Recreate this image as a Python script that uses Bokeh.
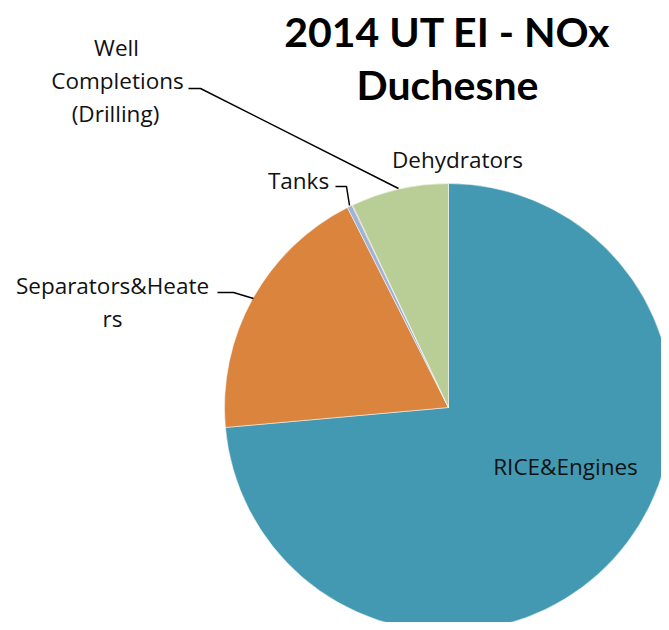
import math
from bokeh.plotting import figure
from bokeh.models import Range1d, ColumnDataSource
from bokeh.core.properties import value
from bokeh.embed import file_html
from bokeh.resources import INLINE

# ---- data ----
categories = ["RICE&Engines", "Separators&Heaters", "Tanks", "Well Completions (Drilling)", "Dehydrators"]
shares = [73.58, 18.97, 0.36, 0.05, 7.04]
colors = ["#4399B1", "#DB843D", "#9EB3D8", "#C0504D", "#B9CD96"]
title_lines = ["2014 UT EI - NOx", "Duchesne"]

# ---- layout (picture pixel coords, y down) ----
FW, FH = 661, 622
cx, cy, r = 448, 407, 224

p = figure(width=FW, height=FH, output_backend="svg", toolbar_location=None,
           x_range=Range1d(0, FW), y_range=Range1d(-FH, 0), min_border=0)
p.axis.visible = False
p.grid.visible = False
p.outline_line_color = None
p.background_fill_color = "white"

total = sum(shares)
starts, ends = [], []
cum = 0.0
for s in shares:
    a0 = math.pi / 2 - 2 * math.pi * (cum + s) / total
    a1 = math.pi / 2 - 2 * math.pi * cum / total
    starts.append(a0)
    ends.append(a1)
    cum += s

src = ColumnDataSource(dict(cat=categories, val=shares, start=starts, end=ends, color=colors))
p.wedge(x=cx, y=-cy, radius=r, start_angle="start", end_angle="end", fill_color="color",
        line_color="white", line_width=0.5, source=src)

# title
p.text(x=[447, 447], y=[-31, -84], text=title_lines, text_font=value("Lato"),
       text_font_style="bold", text_font_size="41px", text_align="center",
       text_baseline="middle", text_color="black")

# labels
lab_font = value("Open Sans")
labels = [
    ("Well", 116, 47), ("Completions", 117, 80), ("(Drilling)", 115, 113),
    ("Tanks", 298, 180), ("Separators&Heate", 112, 285), ("rs", 112, 318),
    ("Dehydrators", 457, 159), ("RICE&Engines", 565, 466),
]
p.text(x=[l[1] for l in labels], y=[-l[2] for l in labels], text=[l[0] for l in labels],
       text_font=lab_font, text_font_size="22.5px", text_align="center",
       text_baseline="middle", text_color="#111111")

# leader lines
leaders = [
    [(188, 88), (200, 88), (398, 188)],
    [(335, 186), (346, 186), (349, 205)],
    [(217, 292), (233, 292), (253, 298)],
]
for ln in leaders:
    p.line(x=[q[0] for q in ln], y=[-q[1] for q in ln], line_color="black", line_width=1.5)

open("out.html", "w").write(file_html(p, INLINE))
